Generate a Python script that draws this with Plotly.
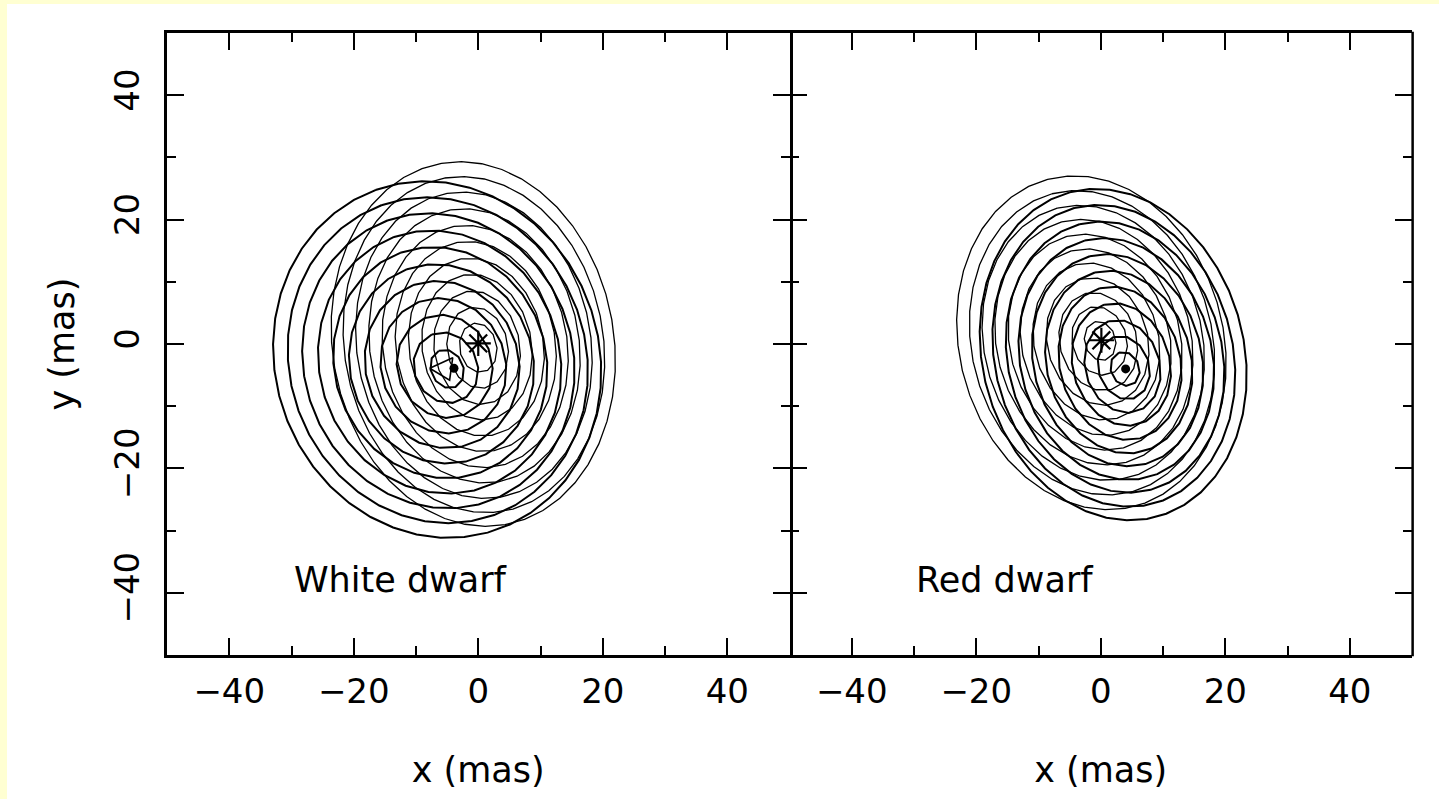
import numpy as np
import plotly.graph_objects as go

# ---- White dwarf panel: two nested ellipse families ----
# family around the dwarf position (heavy lines)
wd_a_cx = [-5.0, -5.2, -5.4, -5.6, -5.8, -5.9, -6.1, -6.2, -6.4, -6.5, -6.6]
wd_a_cy = [-4.0, -3.8, -3.6, -3.5, -3.3, -3.2, -3.0, -2.9, -2.7, -2.6, -2.5]
wd_a_maj = [3.2, 5.8, 8.4, 11.0, 13.6, 16.2, 18.8, 21.4, 24.0, 26.5, 29.0]
wd_a_min = [2.6, 5.1, 7.6, 10.0, 12.3, 14.7, 17.0, 19.3, 21.6, 23.8, 26.0]
wd_a_ang = [115, 113, 112, 111, 110, 110, 110, 110, 110, 110, 110]
# family around the reference star (light lines)
wd_b_cx = [0.0, -0.1, -0.2, -0.2, -0.3, -0.4, -0.5, -0.6, -0.7, -0.7, -0.8]
wd_b_cy = [-0.6, -0.6, -0.6, -0.5, -0.5, -0.4, -0.4, -0.3, -0.2, -0.1, 0.0]
wd_b_maj = [4.0, 6.6, 9.2, 11.8, 14.4, 17.0, 19.6, 22.2, 24.8, 27.2, 29.5]
wd_b_min = [3.0, 4.9, 6.9, 8.8, 10.8, 12.8, 14.8, 16.8, 18.8, 20.8, 22.6]
wd_b_ang = [100, 100, 100, 100, 100, 100, 100, 100, 100, 100, 100]
# innermost closed contour next to the dwarf
wd_tri_x = [-7.8, -4.1, -4.6, -7.8]
wd_tri_y = [-3.9, -2.2, -5.8, -3.9]

# ---- Red dwarf panel ----
rd_a_cx = [3.9, 3.7, 3.5, 3.3, 3.1, 2.9, 2.7, 2.5, 2.3, 2.1, 2.0]
rd_a_cy = [-4.0, -3.8, -3.6, -3.3, -3.1, -2.9, -2.6, -2.4, -2.1, -1.9, -1.7]
rd_a_maj = [2.8, 5.2, 7.6, 10.0, 12.5, 14.9, 17.3, 19.7, 22.1, 24.6, 27.0]
rd_a_min = [2.3, 4.1, 6.0, 7.8, 9.7, 11.6, 13.5, 15.4, 17.2, 19.1, 21.0]
rd_a_ang = [110, 108, 107, 106, 105, 105, 105, 105, 105, 105, 105]
rd_b_cx = [-0.1, -0.2, -0.4, -0.5, -0.7, -0.8, -0.9, -1.1, -1.2, -1.4, -1.5]
rd_b_cy = [0.5, 0.5, 0.4, 0.4, 0.4, 0.3, 0.3, 0.3, 0.2, 0.2, 0.2]
rd_b_maj = [3.2, 5.6, 8.0, 10.4, 12.8, 15.2, 17.6, 20.0, 22.4, 24.8, 27.2]
rd_b_min = [2.5, 4.4, 6.2, 8.1, 10.0, 11.9, 13.7, 15.6, 17.5, 19.3, 21.2]
rd_b_ang = [105, 105, 105, 105, 105, 105, 105, 105, 105, 105, 105]

# marker positions: dwarf (filled dot) and reference star (asterisk)
wd_dot = (-3.9, -3.9)
wd_star = (0.0, 0.1)
rd_dot = (4.0, -4.0)
rd_star = (0.1, 0.6)

panel_labels = ["White dwarf", "Red dwarf"]
label_pos = (-30.0, -38.0)
tick_vals = [-40, -20, 0, 20, 40]

FONT = "DejaVu Sans"


def ellipse(cx, cy, a, b, ang_deg):
    n = int(6 + 1.3 * a)
    t = np.linspace(0, 2 * np.pi, n + 1)
    th = np.deg2rad(ang_deg)
    xe = a * np.cos(t)
    ye = b * np.sin(t)
    x = cx + xe * np.cos(th) - ye * np.sin(th)
    y = cy + xe * np.sin(th) + ye * np.cos(th)
    return x, y


fig = go.Figure()


def add_family(cx, cy, maj, mn, ang, width, xa, ya):
    for i in range(len(cx)):
        x, y = ellipse(cx[i], cy[i], maj[i], mn[i], ang[i])
        fig.add_trace(go.Scatter(x=x, y=y, mode="lines", xaxis=xa, yaxis=ya,
                                 line=dict(color="black", width=width),
                                 hoverinfo="skip", showlegend=False))


add_family(wd_a_cx, wd_a_cy, wd_a_maj, wd_a_min, wd_a_ang, 2.0, "x", "y")
add_family(wd_b_cx, wd_b_cy, wd_b_maj, wd_b_min, wd_b_ang, 1.3, "x", "y")
fig.add_trace(go.Scatter(x=wd_tri_x, y=wd_tri_y, mode="lines", xaxis="x", yaxis="y",
                         line=dict(color="black", width=1.6), showlegend=False, hoverinfo="skip"))
add_family(rd_a_cx, rd_a_cy, rd_a_maj, rd_a_min, rd_a_ang, 2.0, "x2", "y2")
add_family(rd_b_cx, rd_b_cy, rd_b_maj, rd_b_min, rd_b_ang, 1.3, "x2", "y2")

for (dot, star, xa, ya) in [(wd_dot, wd_star, "x", "y"), (rd_dot, rd_star, "x2", "y2")]:
    fig.add_trace(go.Scatter(x=[star[0]], y=[star[1]], mode="markers", xaxis=xa, yaxis=ya,
                             marker=dict(symbol="asterisk-open", size=21, color="black",
                                         line=dict(color="black", width=2.2)),
                             showlegend=False, hoverinfo="skip"))
    fig.add_trace(go.Scatter(x=[dot[0]], y=[dot[1]], mode="markers", xaxis=xa, yaxis=ya,
                             marker=dict(symbol="circle", size=9, color="black"),
                             showlegend=False, hoverinfo="skip"))

minor = dict(dtick=10, tick0=0, ticks="inside", ticklen=9, tickwidth=2,
             tickcolor="black", showgrid=False)
axis_common = dict(range=[-50, 50], tickmode="array", tickvals=tick_vals,
                   ticks="inside", ticklen=17, tickwidth=2, tickcolor="black",
                   linewidth=2.5, linecolor="black", mirror="allticks",
                   showgrid=False, zeroline=False, minor=minor,
                   tickfont=dict(family=FONT, size=34, color="black"))

title_font = dict(family=FONT, size=35, color="black")

fig.update_layout(
    width=1439, height=799,
    margin=dict(l=167, r=27, t=33, b=144),
    paper_bgcolor="#FFFFD2", plot_bgcolor="white",
    xaxis=dict(domain=[0, 0.5], anchor="y", showline=True, ticklabelstandoff=4,
               title=dict(text="x (mas)", font=title_font, standoff=48), **axis_common),
    yaxis=dict(domain=[0, 1], anchor="x", showline=True, tickangle=-90, ticklabelstandoff=12,
               title=dict(text="y (mas)", font=title_font, standoff=22), **axis_common),
    xaxis2=dict(domain=[0.5, 1], anchor="y2", showline=True, ticklabelstandoff=4,
                title=dict(text="x (mas)", font=title_font, standoff=48), **axis_common),
    # the shared border comes from the left panel; only ticks here
    yaxis2=dict(domain=[0, 1], anchor="x2", showline=False, showticklabels=False,
                **axis_common),
    shapes=[
        dict(type="rect", xref="paper", yref="paper", layer="below",
             x0=(7 - 167) / 1245, x1=1.05, y0=-0.3, y1=(799 - 4 - 144) / 622,
             fillcolor="white", line=dict(width=0)),
        # outer right border of the right panel
        dict(type="line", xref="x2 domain", yref="y2 domain", x0=1.001, x1=1.001,
             y0=-0.002, y1=1.002, line=dict(color="black", width=2.5)),
    ],
    annotations=[
        dict(text=panel_labels[0], x=label_pos[0], y=label_pos[1], xref="x", yref="y",
             xanchor="left", yanchor="middle", showarrow=False, font=title_font),
        dict(text=panel_labels[1], x=label_pos[0], y=label_pos[1], xref="x2", yref="y2",
             xanchor="left", yanchor="middle", showarrow=False, font=title_font),
    ],
)

fig.write_html("out.html")
